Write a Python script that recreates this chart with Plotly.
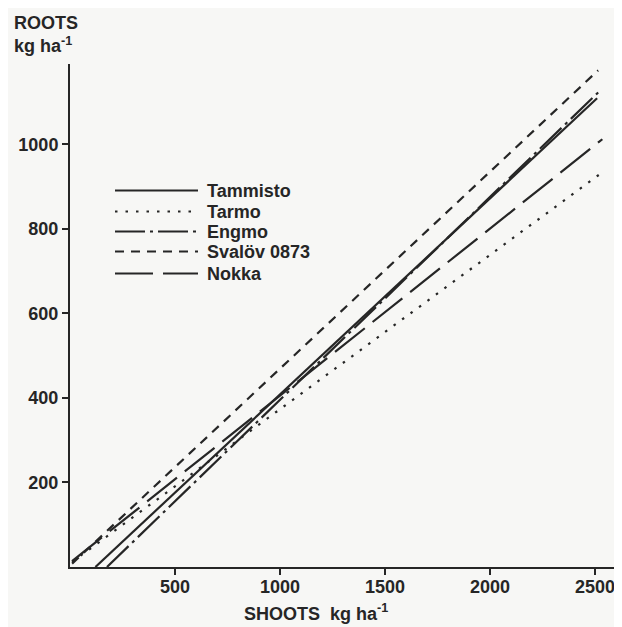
import plotly.graph_objects as go

# Regression lines, endpoints (kg/ha)
varieties = ["Tammisto", "Tarmo", "Engmo", "Svalöv 0873", "Nokka"]
shoot_start = [121, 10, 176, 10, 10]
root_start = [0, 12, 0, 8, 14]
shoot_end = [2510, 2525, 2520, 2515, 2535]
root_end = [1109, 930, 1125, 1175, 1012]

x_ticks = [500, 1000, 1500, 2000, 2500]
y_ticks = [200, 400, 600, 800, 1000]

INK = "#262626"
BG = "#f7f7f5"
dashes = ["solid", "2.5px,8px", "30px,5px,3px,5px", "9px,7px", "38px,10px"]

fig = go.Figure()

for i, name in enumerate(varieties):
    fig.add_trace(go.Scatter(
        x=[shoot_start[i], shoot_end[i]], y=[root_start[i], root_end[i]],
        mode="lines", name=name,
        line=dict(color=INK, width=2.2, dash=dashes[i]),
        showlegend=False,
    ))

# ── Hand-drawn legend (long line samples like the original) ──────────
# plot area is 546 x 503 px; bottom edge sits at page y 567.5
row_px = [191, 212, 232, 252, 274]
for i, name in enumerate(varieties):
    yp = (567.5 - row_px[i]) / 503
    fig.add_shape(type="line", xref="paper", yref="paper",
                  x0=45 / 546, x1=128 / 546, y0=yp, y1=yp,
                  line=dict(color=INK, width=2.2, dash=dashes[i]))
    fig.add_annotation(text=f"<b>{name}</b>", xref="paper", yref="paper",
                       x=135 / 546, y=yp, xanchor="left", yanchor="middle",
                       showarrow=False, font=dict(size=18, color=INK))

# Axis titles
fig.add_annotation(text="<b>ROOTS</b><br><b>kg ha<sup>-1</sup></b>",
                   xref="paper", yref="paper", x=-58 / 546, y=1.106,
                   xanchor="left", yanchor="top", align="left",
                   showarrow=False, font=dict(size=18, color=INK))
fig.add_annotation(text="<b>SHOOTS  kg ha<sup>-1</sup></b>",
                   xref="paper", yref="paper", x=0.45, y=-0.091,
                   xanchor="center", yanchor="middle",
                   showarrow=False, font=dict(size=18, color=INK))

axis_font = dict(family="Liberation Sans, Arial", size=18, color=INK, weight="bold")
# page body has an 8px margin, so the figure is shrunk and shifted by that much
fig.update_layout(
    width=614, height=619,
    margin=dict(l=62, r=6, t=56, b=60),
    paper_bgcolor=BG, plot_bgcolor=BG,
    font=dict(family="Liberation Sans, Arial", color=INK),
    xaxis=dict(range=[0, 2600], tickvals=x_ticks, showgrid=False, zeroline=False,
               showline=True, linecolor=INK, linewidth=2, ticks="outside",
               ticklen=6, tickwidth=2, tickcolor=INK, tickfont=axis_font,
               ticklabelstandoff=-4, automargin=False),
    yaxis=dict(range=[0, 1190], tickvals=y_ticks, showgrid=False, zeroline=False,
               showline=True, linecolor=INK, linewidth=2, ticks="outside",
               ticklen=6, tickwidth=2, tickcolor=INK, tickfont=axis_font,
               automargin=False),
)

fig.write_html("out.html")
